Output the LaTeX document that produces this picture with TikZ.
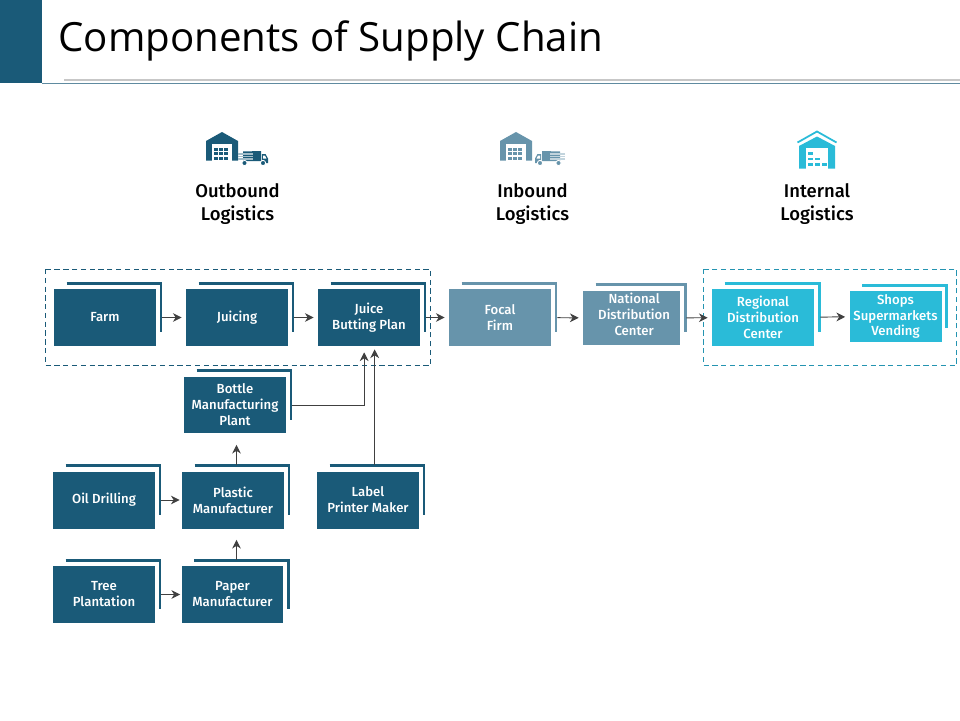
\documentclass[tikz,border=0pt]{standalone}
\usepackage{fontspec}
\setmainfont{Open Sans}
\newfontfamily\cardfont{Fira Sans}[UprightFont=* Medium]
\usetikzlibrary{arrows.meta,calc,positioning}
\definecolor{deepteal}{HTML}{1A5A78}
\definecolor{slateteal}{HTML}{6794AB}
\definecolor{brightcyan}{HTML}{2ABBD8}
\definecolor{arrowgrey}{HTML}{404040}
\newcommand{\nudged}[3]{\hspace*{#1}\raisebox{#2}[0pt][0pt]{\begin{tabular}{@{}c@{}}#3\end{tabular}}}
\tikzset{
    card/.style={fill=deepteal, text=white, align=center, inner sep=0pt, minimum width=2.04cm, minimum height=1.14cm, font=\cardfont\fontsize{7.5}{9.07}\selectfont},
    cardback/.style={line width=0.058cm, miter limit=10},
    flow/.style={draw=arrowgrey, line width=0.55pt, -{Stealth[length=5pt,width=5pt,inset=1.6pt]}},
    region/.style={densely dashed, line width=0.4pt},
    heading/.style={align=center, font=\cardfont\fontsize{10.5}{13.1}\selectfont},
    pics/truck/.style={code={
        \fill[#1] (243,151.5) -- (261,151) -- (261,161) -- (243,161) -- cycle;
        \foreach \y in {154,156.5,159} \draw[#1!40, line width=0.7pt] (238,\y) -- (253,\y);
        \fill[#1] (261.8,154) -- (265.5,154) -- (268,158.5) -- (268,163) -- (261.8,163) -- cycle;
        \fill[white] (263,155.5) -- (265,155.5) -- (266.4,158.5) -- (263,158.5) -- cycle;
        \foreach \x in {244.5,263} \filldraw[fill=#1, draw=white, line width=0.5pt] (\x,163) circle (2.6);
    }},
    pics/depot/.style={code={
        \fill[#1] (206,160.5) -- (206,141) -- (222,132) -- (238,141) -- (238,160.5) -- cycle;
        \fill[white] (212,144) rectangle (232,160.5);
        \foreach \x in {214,219,224} \foreach \y in {147.5,152,156.5} \fill[#1] (\x,\y) rectangle +(3.5,3.2);
    }}
}
\begin{document}
\begin{tikzpicture}[x=0.02cm,y=-0.02cm]
    \useasboundingbox (0,0) rectangle (960,720);

    % Title band
    \fill[deepteal] (0,0) rectangle (42,83);
    \draw[draw=deepteal!70, line width=0.5pt] (42,83) -- (960,83);
    \draw[draw=black!22, line width=0.8pt] (64,80) -- (960,80);
    \node[anchor=west, inner sep=0pt, font=\fontsize{22.9}{28}\selectfont] (title) at (58,41) {Components of Supply Chain};

    % Icons
    \pic {depot=deepteal};
    \pic {truck=deepteal};
    \pic at (294,0) {depot=slateteal};
    \pic[xscale=-1] at (803,0) {truck=slateteal};
    % Internal warehouse
    \fill[brightcyan] (799,168.5) -- (799,146) -- (817,136.5) -- (835,146) -- (835,168.5) -- cycle;
    \draw[brightcyan, line width=1pt] (797.5,142.5) -- (817,131.5) -- (836.5,142.5);
    \fill[white] (806,148) rectangle (828,168.5);
    \foreach \x/\y in {808/152,808/157.5,815/157.5,808/163,815/163,822/163} \fill[brightcyan] (\x,\y) rectangle +(4.5,2.8);

    % Headings
    \node[heading] (outbound) at (237.5,204.5) {Outbound\\Logistics};
    \node[heading] (inbound) at (532.5,204.5) {Inbound\\Logistics};
    \node[heading] (internal) at (817,204.5) {Internal\\Logistics};

    % Dashed regions
    \draw[region, deepteal] (45.5,269) rectangle (430.5,365.5);
    \draw[region, brightcyan!60!deepteal] (703.5,269) rectangle (956.5,365.5);

    % Cards
    \node[card] (farm) at (105,317.5) {Farm};
    \node[card] (juicing) at (237,317.5) {Juicing};
    \node[card] (juice) at (369,317.5) {Juice\\Butting Plan};
    \node[card] (bottle) at (235,405) {Bottle\\Manufacturing\\Plant};
    \node[card, fill=slateteal] (focal) at (500,317.5) {Focal\\Firm};
    \node[card, fill=slateteal, minimum width=1.94cm, minimum height=1.1cm] (national) at (631.5,318) {\nudged{3pt}{-0.7pt}{National\\Distribution\\Center}};
    \node[card, fill=brightcyan] (regional) at (763,317.5) {Regional\\Distribution\\Center};
    \node[card, fill=brightcyan, minimum width=1.84cm, minimum height=1.02cm] (shops) at (895.5,316.5) {Shops\\Supermarkets\\Vending};
    \node[card] (oil) at (104,500) {Oil Drilling};
    \node[card] (plastic) at (233,500) {Plastic\\Manufacturer};
    \node[card] (printer) at (368,500) {Label\\Printer Maker};
    \node[card] (tree) at (104,594.5) {Tree\\Plantation};
    \node[card] (paper) at (232.5,594.5) {Paper\\Manufacturer};

    % Card backs
    \foreach \n/\c in {farm/deepteal,juicing/deepteal,juice/deepteal,bottle/deepteal,focal/slateteal,national/slateteal,regional/brightcyan,shops/brightcyan,oil/deepteal,plastic/deepteal,printer/deepteal,tree/deepteal,paper/deepteal}
        \draw[cardback, \c] ($(\n.north west)+(13,-5.5)$) -| ($(\n.south east)+(4.7,-14)$);

    % Connectors
    \draw[flow, shorten <=6*0.567pt, shorten >=4*0.567pt] (farm) -- (juicing);
    \draw[flow, shorten <=6*0.567pt, shorten >=4*0.567pt] (juicing) -- (juice);
    \draw[flow, shorten <=6*0.567pt, shorten >=4*0.567pt] (juice) -- (focal);
    \draw[flow, shorten <=6*0.567pt, shorten >=4*0.567pt] (focal) -- (national);
    \draw[flow, shorten <=6*0.567pt, shorten >=4*0.567pt] (national) -- (regional);
    \draw[flow, shorten <=6*0.567pt, shorten >=4*0.567pt] (regional) -- (shops);
    \draw[flow, shorten <=6*0.567pt, shorten >=2*0.567pt] (oil) -- (plastic);
    \draw[flow, shorten <=6*0.567pt, shorten >=1*0.567pt] (tree) -- (paper);
    \draw[flow, shorten <=6*0.567pt, shorten >=6*0.567pt] (bottle.east) -| ($(juice.south west)+(46.5,0)$);
    \draw[flow, shorten >=3*0.567pt] ($(printer.north west)+(58,-6)$) -- ($(juice.south west)+(57,0)$);
    \draw[flow, shorten <=6*0.567pt, shorten >=11*0.567pt] ($(plastic.north)+(3.5,0)$) -- ($(bottle.south)+(1.5,0)$);
    \draw[flow, shorten <=6*0.567pt, shorten >=11*0.567pt] ($(paper.north)+(4,0)$) -- ($(plastic.south)+(3.5,0)$);
\end{tikzpicture}
\end{document}
